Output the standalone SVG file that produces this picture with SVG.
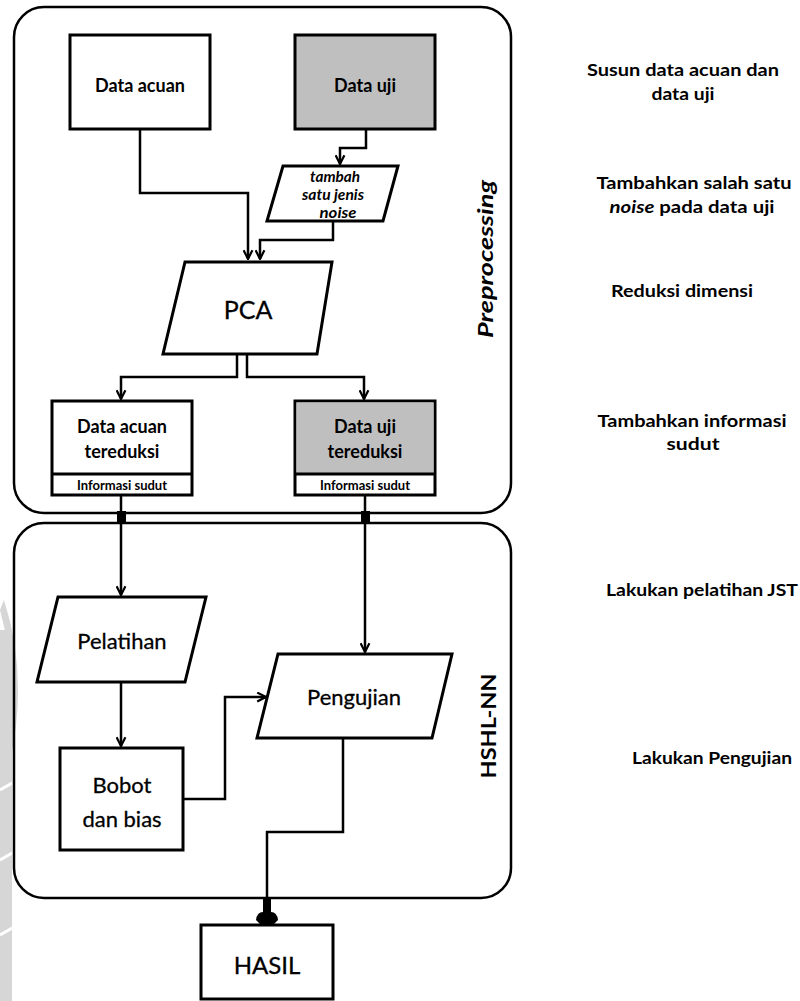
<svg xmlns="http://www.w3.org/2000/svg" width="800" height="1001" viewBox="0 0 800 1001">
<defs>
<style>
.box{fill:#fff;stroke:#000;stroke-width:3}
.gray{fill:#bfbfbf;stroke:#000;stroke-width:3}
.frame{fill:none;stroke:#000;stroke-width:2.5}
.ln{fill:none;stroke:#000;stroke-width:2.5}
text{font-family:Lato,"Liberation Sans",sans-serif;fill:#000;text-anchor:middle}
.b{font-weight:bold}
.bi{font-weight:bold;font-style:italic}
.side{font-weight:bold;font-size:17px}
.reg{stroke:#000;stroke-width:0.3}
</style>
<marker id="arr" viewBox="0 0 10 10" refX="9" refY="5" markerWidth="11" markerHeight="11" markerUnits="userSpaceOnUse" orient="auto">
<path d="M1,1 L9,5 L1,9" fill="none" stroke="#000" stroke-width="2"/>
</marker>
</defs>
<rect width="800" height="1001" fill="#fff"/>
<!-- watermark -->
<g id="watermark" fill="#d6d6d6">
<rect x="0" y="630" width="12" height="371"/>
<path d="M4,600 Q30,680 8,770 L3,770 Q20,680 0,610 Z"/>
<g stroke="#fff" stroke-width="3">
<line x1="0" y1="790" x2="14" y2="782"/>
<line x1="0" y1="860" x2="14" y2="852"/>
<line x1="0" y1="935" x2="14" y2="927"/>
</g>
</g>
<!-- frames -->
<g id="preprocessing">
<rect class="frame" x="14" y="7" width="497" height="506" rx="30"/>
<text class="bi" font-size="20" transform="translate(493,259) rotate(-90)" textLength="158" lengthAdjust="spacingAndGlyphs">Preprocessing</text>
</g>
<g id="hshl-nn">
<rect class="frame" x="14" y="523" width="497" height="375" rx="30"/>
<text class="b" font-size="20" transform="translate(496,726) rotate(-90)" textLength="105" lengthAdjust="spacingAndGlyphs">HSHL-NN</text>
</g>
<!-- connectors -->
<g id="connectors">
<path class="ln" d="M140,129 V193 H248 V259" marker-end="url(#arr)"/>
<path class="ln" d="M366,129 V148 H340 V164" marker-end="url(#arr)"/>
<path class="ln" d="M333,221 V240 H260 V259" marker-end="url(#arr)"/>
<path class="ln" d="M237,354 V377 H121 V399" marker-end="url(#arr)"/>
<path class="ln" d="M247,354 V377 H364 V399" marker-end="url(#arr)"/>
<path class="ln" d="M121,495 V595" marker-end="url(#arr)"/>
<path class="ln" d="M365,495 V652" marker-end="url(#arr)"/>
<path class="ln" d="M121,682 V746" marker-end="url(#arr)"/>
<path class="ln" d="M183,799 H225 V697 H266" marker-end="url(#arr)"/>
<path class="ln" d="M343,738 V832 H267 V900"/>
<rect x="117" y="511" width="9" height="11" fill="#000"/>
<rect x="361" y="511" width="9" height="11" fill="#000"/>
<rect x="263" y="898" width="8" height="16" fill="#000"/>
<path d="M256,920 Q257,912 263,912 L271,912 Q277,912 278,920 L272,926 L262,926 Z" fill="#000"/>
</g>
<!-- nodes -->
<g id="data-acuan">
<rect class="box" x="70" y="35" width="140" height="94"/>
<text class="b" x="140" y="92" font-size="18">Data acuan</text>
</g>
<g id="data-uji">
<rect class="gray" x="295" y="35" width="140" height="94"/>
<text class="b" x="365" y="92" font-size="18">Data uji</text>
</g>
<g id="noise">
<polygon class="box" points="283,166 398,166 383,221 267,221"/>
<text class="bi" x="335" y="182" font-size="14.5" textLength="50" lengthAdjust="spacingAndGlyphs">tambah</text>
<text class="bi" x="333" y="200" font-size="14.5" textLength="62" lengthAdjust="spacingAndGlyphs">satu jenis</text>
<text class="bi" x="338" y="218" font-size="14.5" textLength="37" lengthAdjust="spacingAndGlyphs">noise</text>
</g>
<g id="pca">
<polygon class="box" points="185,262 332,262 317,354 163,354"/>
<text class="reg" x="248" y="319" font-size="25">PCA</text>
</g>
<g id="data-acuan-tereduksi">
<rect class="box" x="52" y="401" width="140" height="94"/>
<line x1="52" y1="474" x2="192" y2="474" stroke="#000" stroke-width="3"/>
<text class="b" x="122" y="433" font-size="18">Data acuan</text>
<text class="b" x="122" y="458" font-size="18">tereduksi</text>
<text class="b" x="122" y="490" font-size="13">Informasi sudut</text>
</g>
<g id="data-uji-tereduksi">
<rect class="box" x="295" y="401" width="140" height="94"/>
<rect x="296.5" y="402.5" width="137" height="71" fill="#bfbfbf"/>
<line x1="295" y1="474" x2="435" y2="474" stroke="#000" stroke-width="3"/>
<text class="b" x="365" y="433" font-size="18">Data uji</text>
<text class="b" x="365" y="458" font-size="18">tereduksi</text>
<text class="b" x="365" y="490" font-size="13">Informasi sudut</text>
</g>
<g id="pelatihan">
<polygon class="box" points="58,597 206,597 185,682 37,682"/>
<text class="reg" x="122" y="649" font-size="22">Pelatihan</text>
</g>
<g id="pengujian">
<polygon class="box" points="278,654 452,654 432,738 257,738"/>
<text class="reg" x="354" y="705" font-size="22">Pengujian</text>
</g>
<g id="bobot">
<rect class="box" x="60" y="748" width="123" height="102"/>
<text class="reg" x="122" y="793" font-size="22">Bobot</text>
<text class="reg" x="122" y="827" font-size="22">dan bias</text>
</g>
<g id="hasil">
<rect class="box" x="201" y="925" width="132" height="74"/>
<text class="reg" x="267" y="974" font-size="24">HASIL</text>
</g>
<!-- side notes -->
<g id="notes">
<text class="side" x="683" y="76" textLength="192" lengthAdjust="spacingAndGlyphs">Susun data acuan dan</text>
<text class="side" x="683" y="100" textLength="63" lengthAdjust="spacingAndGlyphs">data uji</text>
<text class="side" x="694" y="189" textLength="195" lengthAdjust="spacingAndGlyphs">Tambahkan salah satu</text>
<text class="side" x="692" y="213" textLength="165" lengthAdjust="spacingAndGlyphs"><tspan font-style="italic">noise</tspan> pada data uji</text>
<text class="side" x="682" y="297" textLength="142" lengthAdjust="spacingAndGlyphs">Reduksi dimensi</text>
<text class="side" x="692" y="427" textLength="189" lengthAdjust="spacingAndGlyphs">Tambahkan informasi</text>
<text class="side" x="693" y="450" textLength="53" lengthAdjust="spacingAndGlyphs">sudut</text>
<text class="side" x="702" y="596" textLength="192" lengthAdjust="spacingAndGlyphs">Lakukan pelatihan JST</text>
<text class="side" x="712" y="764" textLength="160" lengthAdjust="spacingAndGlyphs">Lakukan Pengujian</text>
</g>
</svg>
